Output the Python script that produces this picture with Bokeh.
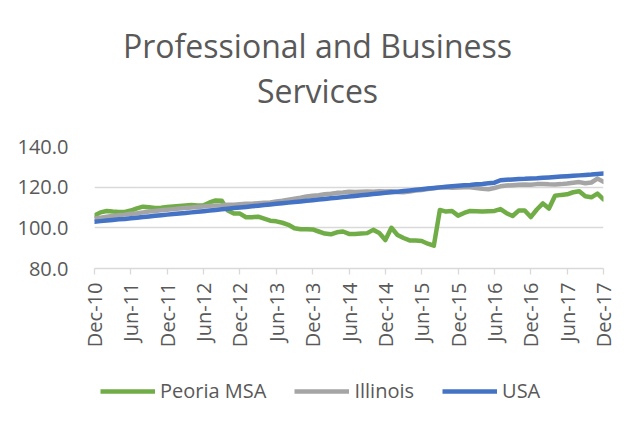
import math
from bokeh.plotting import figure
from bokeh.models import Range1d, FixedTicker, Legend, LegendItem, Label
from bokeh.layouts import column
from bokeh.embed import file_html
from bokeh.resources import INLINE

# ---- data (monthly, Dec-2010 .. Dec-2017) ----
tick_labels = ["Dec-10", "Jun-11", "Dec-11", "Jun-12", "Dec-12", "Jun-13", "Dec-13",
               "Jun-14", "Dec-14", "Jun-15", "Dec-15", "Jun-16", "Dec-16", "Jun-17", "Dec-17"]
tick_months = [0, 6, 12, 18, 24, 30, 36, 42, 48, 54, 60, 66, 72, 78, 84]
y_ticks = [80, 100, 120, 140]
series_names = ["Peoria MSA", "Illinois", "USA"]
title_lines = ["Professional and Business", "Services"]

peoria = [106.0, 107.6, 108.3, 108.0, 107.8, 107.8, 108.5, 109.6, 110.4, 110.1,
          109.8, 109.9, 110.2, 110.5, 110.8, 111.0, 111.2, 111.0, 111.1, 112.5,
          113.5, 113.3, 108.5, 107.0, 107.0, 105.2, 105.2, 105.5, 104.5, 103.5,
          103.2, 102.5, 101.5, 99.8, 99.3, 99.3, 99.2, 98.2, 97.2, 96.8,
          97.8, 98.2, 97.0, 97.0, 97.2, 97.4, 99.0, 97.5, 94.0, 100.0,
          96.5, 95.0, 93.8, 93.8, 93.5, 92.2, 91.2, 108.8, 108.0, 108.3,
          106.0, 107.3, 108.3, 108.2, 108.0, 108.2, 108.3, 109.2, 107.2, 105.8,
          108.5, 108.5, 105.3, 109.0, 112.0, 109.5, 115.8, 116.2, 116.5, 117.5,
          118.0, 115.5, 115.0, 116.8, 114.0]

illinois = [104.6, 105.0, 105.4, 105.8, 106.2, 106.5, 106.9, 107.2, 107.6, 108.0,
            108.3, 108.6, 108.9, 109.2, 109.5, 109.8, 110.0, 110.3, 110.5, 110.8,
            111.0, 111.1, 111.3, 111.4, 111.6, 111.8, 111.9, 112.1, 112.3, 112.5,
            112.9, 113.3, 113.8, 114.3, 114.8, 115.4, 115.8, 116.0, 116.5, 116.8,
            117.2, 117.4, 117.7, 117.6, 117.8, 117.9, 117.8, 118.0, 117.9, 118.0,
            117.6, 117.5, 117.9, 118.3, 118.6, 119.1, 119.5, 119.8, 119.9, 119.7,
            119.8, 120.0, 119.9, 119.6, 119.2, 119.0, 119.6, 120.4, 120.8, 121.0,
            121.2, 121.3, 121.2, 121.5, 121.6, 121.4, 121.3, 121.5, 121.8, 122.2,
            122.5, 121.9, 122.3, 124.2, 122.6]

usa = [103.0, 103.3, 103.6, 103.9, 104.2, 104.4, 104.7, 105.0, 105.3, 105.6,
       105.9, 106.2, 106.5, 106.8, 107.1, 107.3, 107.6, 107.9, 108.2, 108.5,
       108.8, 109.1, 109.4, 109.7, 110.0, 110.3, 110.6, 110.9, 111.2, 111.5,
       111.8, 112.1, 112.4, 112.7, 113.0, 113.3, 113.6, 113.9, 114.2, 114.5,
       114.8, 115.1, 115.4, 115.7, 116.0, 116.3, 116.6, 116.9, 117.2, 117.5,
       117.8, 118.1, 118.4, 118.7, 119.0, 119.3, 119.6, 119.9, 120.2, 120.5,
       120.7, 120.9, 121.1, 121.4, 121.6, 121.9, 122.2, 123.4, 123.6, 123.8,
       124.0, 124.1, 124.3, 124.4, 124.6, 124.8, 125.0, 125.2, 125.4, 125.6,
       125.8, 126.0, 126.2, 126.5, 126.7]

months = list(range(len(usa)))

FONT = "Open Sans"
TXT = "#595959"
GRID = "#d9d9d9"
colors = ["#70ad47", "#a5a5a5", "#4472c4"]
W = 618
H_HEAD, H_MAIN, H_LEG = 120, 244, 50
BL, BR = 94, 15            # shared left / right borders -> same frame in every row
FL, FR = BL, W - BR        # frame left / right in page pixels


def bare_fig(h, xr, yr):
    f = figure(width=W, height=h, output_backend="svg", toolbar_location=None,
               x_range=xr, y_range=yr, x_axis_type=None, y_axis_type=None,
               min_border_left=BL, min_border_right=BR,
               min_border_top=0, min_border_bottom=0)
    f.outline_line_color = None
    f.xgrid.visible = False
    f.ygrid.visible = False
    return f


# ---- header with the two-line title (page-pixel x, y downward) ----
head = bare_fig(H_HEAD, Range1d(FL, FR), Range1d(H_HEAD, 0))
for txt, yb in zip(title_lines, [45, 90]):
    head.add_layout(Label(x=317, y=yb, text=txt, text_align="center",
                          text_baseline="alphabetic", text_font=FONT,
                          text_font_size="32px", text_color=TXT))

# ---- main chart ----
p = figure(width=W, height=H_MAIN, output_backend="svg", toolbar_location=None,
           x_range=Range1d(0, 84), y_range=Range1d(80, 140),
           min_border_left=BL, min_border_right=BR, min_border_top=26,
           min_border_bottom=96)
p.outline_line_color = None
p.xgrid.grid_line_color = None
p.ygrid.grid_line_color = GRID
p.ygrid.grid_line_width = 1.3

p.yaxis.ticker = FixedTicker(ticks=y_ticks)
p.yaxis.major_label_overrides = {t: f"{t:.1f}" for t in y_ticks}
p.yaxis.axis_line_color = None
p.yaxis.major_tick_line_color = None
p.yaxis.minor_tick_line_color = None
p.yaxis.major_label_standoff = 20
p.yaxis.major_label_text_font = FONT
p.yaxis.major_label_text_font_size = "20px"
p.yaxis.major_label_text_color = TXT

p.xaxis.ticker = FixedTicker(ticks=tick_months)
p.xaxis.major_label_overrides = dict(zip(tick_months, tick_labels))
p.xaxis.major_label_orientation = math.pi / 2
p.xaxis.axis_line_color = GRID
p.xaxis.axis_line_width = 1.3
p.xaxis.major_tick_line_color = GRID
p.xaxis.major_tick_line_width = 1.3
p.xaxis.major_tick_in = 0
p.xaxis.major_tick_out = 6
p.xaxis.minor_tick_line_color = None
p.xaxis.major_label_standoff = 8
p.xaxis.major_label_text_font = FONT
p.xaxis.major_label_text_font_size = "20px"
p.xaxis.major_label_text_color = TXT

for vals, c in zip([peoria, illinois, usa], colors):
    p.line(months, vals, line_color=c, line_width=4.5, line_join="round",
           line_cap="round")

# ---- legend strip (proxy renderers lie outside the strip's visible range) ----
leg = bare_fig(H_LEG, Range1d(0, 1), Range1d(0, 1))
leg_renderers = [leg.line(x=[5, 6], y=[5, 6], line_color=c, line_width=4.5) for c in colors]
legend = Legend(items=[LegendItem(label=n, renderers=[r]) for n, r in zip(series_names, leg_renderers)],
                orientation="horizontal", location=(6, 10),
                glyph_width=55, glyph_height=20, label_standoff=5, spacing=28,
                padding=0, margin=0, border_line_color=None,
                background_fill_alpha=0,
                label_text_font=FONT, label_text_font_size="20px",
                label_text_color=TXT)
leg.add_layout(legend, "center")

layout = column(head, p, leg, spacing=0)
open("out.html", "w").write(file_html(layout, INLINE))
